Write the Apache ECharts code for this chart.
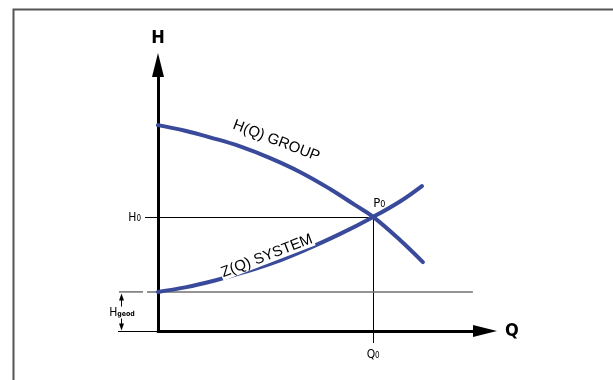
<!DOCTYPE html>
<html>
<head>
<meta charset="utf-8">
<script src="https://cdn.jsdelivr.net/npm/echarts@6/dist/echarts.min.js"></script>
<style>
html,body{margin:0;padding:0;background:#fff;}
#chart{width:613px;height:380px;}
</style>
</head>
<body>
<div id="chart"></div>
<script>
// ---- data (abstract units) ----
const pumpQ = [0, 8.3, 15.9, 25.1, 34.3, 43.4, 52.6, 60.2, 65.8, 74.0, 81.0];
const pumpH = [77.4, 75.3, 72.8, 69.4, 65.0, 59.8, 53.4, 47.4, 42.9, 34.2, 25.9];
const systemQ = [0, 8.3, 17.4, 26.6, 35.8, 45.0, 55.7, 65.8, 74.0, 80.7];
const systemH = [14.7, 16.4, 19.0, 22.2, 25.9, 30.5, 36.5, 42.9, 48.7, 54.5];
const operatingPoint = [65.8, 42.9];   // P0 = (Q0, H0)
const hGeod = 14.7;
const geodLineEndQ = 96.3;
const pumpLabelAt = [36.2, 71.5];
const systemLabelAt = [33.3, 28.2];
const axisNames = { x: 'Q', y: 'H' };
const curveLabels = { pump: 'H(Q) GROUP', system: 'Z(Q) SYSTEM' };

const BLUE = '#3a4a9b';
const FONT = "'Liberation Sans', Arial, sans-serif";
const NARROW = "'Liberation Sans Narrow', 'DejaVu Sans Condensed', 'Liberation Sans', Arial, sans-serif";

const zip = (a, b) => a.map((v, i) => [v, b[i]]);
const px = v => Math.round(v) + 0.5;

const chart = echarts.init(document.getElementById('chart'), null, { renderer: 'canvas' });

const option = {
  animation: false,
  backgroundColor: '#fff',
  grid: { left: 158, top: 65, right: 128, bottom: 49, containLabel: false },
  xAxis: {
    type: 'value', min: 0, max: 100,
    name: axisNames.x, nameLocation: 'end', nameGap: 20,
    nameTextStyle: { fontFamily: NARROW, fontWeight: 'bold', fontSize: 18, color: '#000', verticalAlign: 'middle' },
    axisLine: { show: true, onZero: false, symbol: ['none', 'triangle'], symbolSize: [12, 24],
      lineStyle: { color: '#000', width: 3 } },
    axisTick: { show: false }, axisLabel: { show: false }, splitLine: { show: false }
  },
  yAxis: {
    type: 'value', min: 0, max: 100,
    name: axisNames.y, nameLocation: 'end', nameGap: 18,
    nameTextStyle: { fontFamily: NARROW, fontWeight: 'bold', fontSize: 18, color: '#000', align: 'center' },
    axisLine: { show: true, onZero: false, symbol: ['none', 'triangle'], symbolSize: [12, 24],
      lineStyle: { color: '#000', width: 3 } },
    axisTick: { show: false }, axisLabel: { show: false }, splitLine: { show: false }
  },
  graphic: [
    { type: 'rect', left: 11, top: 7, shape: { x: 0, y: 0, width: 700, height: 500 },
      style: { fill: 'none', stroke: '#555', lineWidth: 2 }, z: 100, silent: true }
  ],
  series: [
    {
      type: 'custom', name: 'guides', z: 1, clip: false, silent: true,
      data: [[0, 0]],
      renderItem: function (params, api) {
        const o = api.coord([0, 0]);
        const p = api.coord(operatingPoint);
        const g = api.coord([0, hGeod]);
        const gEnd = api.coord([geodLineEndQ, hGeod]);
        const dx = px(o[0] - 37);
        const gy = px(g[1]), oy = px(o[1]), py = px(p[1]), pxx = px(p[0]);
        const blk = { stroke: '#000', lineWidth: 1 };
        const gry = { stroke: '#707070', lineWidth: 1.5 };
        return {
          type: 'group',
          children: [
            { type: 'line', shape: { x1: o[0] - 13, y1: py, x2: p[0], y2: py }, style: blk },
            { type: 'line', shape: { x1: pxx, y1: p[1], x2: pxx, y2: o[1] + 12 }, style: blk },
            { type: 'line', shape: { x1: o[0] - 39, y1: g[1], x2: o[0] - 15, y2: g[1] }, style: gry },
            { type: 'line', shape: { x1: o[0] - 11, y1: g[1], x2: gEnd[0], y2: g[1] }, style: gry },
            { type: 'line', shape: { x1: o[0] - 40, y1: oy, x2: o[0], y2: oy }, style: blk },
            { type: 'line', shape: { x1: dx, y1: gy + 5, x2: dx, y2: gy + 14 }, style: blk },
            { type: 'polygon', shape: { points: [[dx, gy + 1], [dx - 2.5, gy + 8], [dx + 2.5, gy + 8]] }, style: { fill: '#000' } },
            { type: 'line', shape: { x1: dx, y1: oy - 13, x2: dx, y2: oy - 5 }, style: blk },
            { type: 'polygon', shape: { points: [[dx, oy - 1], [dx - 2.5, oy - 8], [dx + 2.5, oy - 8]] }, style: { fill: '#000' } }
          ]
        };
      }
    },
    {
      type: 'line', name: 'pump', z: 2, data: zip(pumpQ, pumpH),
      smooth: 0.4, showSymbol: false, symbol: 'none',
      lineStyle: { color: BLUE, width: 4, cap: 'round' }
    },
    {
      type: 'line', name: 'system', z: 2, data: zip(systemQ, systemH),
      smooth: 0.4, showSymbol: false, symbol: 'none',
      lineStyle: { color: BLUE, width: 4, cap: 'round' }
    },
    {
      type: 'custom', name: 'labels', z: 3, clip: false, silent: true,
      data: [[0, 0]],
      renderItem: function (params, api) {
        const o = api.coord([0, 0]);
        const p = api.coord(operatingPoint);
        const g = api.coord([0, hGeod]);
        const pl = api.coord(pumpLabelAt);
        const sl = api.coord(systemLabelAt);
        const sub = (mainSize, subSize, subBold) => ({
          a: { fontFamily: NARROW, fontSize: mainSize, fill: '#000' },
          b: { fontFamily: NARROW, fontSize: subSize, fill: '#000', fontWeight: subBold ? 'bold' : 'normal', verticalAlign: 'bottom', padding: [0, 0, 1, 0] }
        });
        return {
          type: 'group',
          children: [
            { type: 'text', x: pl[0], y: pl[1], rotation: -21 * Math.PI / 180,
              style: { text: curveLabels.pump, fontFamily: FONT, fontSize: 15, fill: '#000', align: 'center', verticalAlign: 'middle' } },
            { type: 'text', x: sl[0], y: sl[1], rotation: 21 * Math.PI / 180,
              style: { text: curveLabels.system, fontFamily: FONT, fontSize: 15, fill: '#000', align: 'center', verticalAlign: 'middle',
                backgroundColor: '#fff', padding: [0, 1, 0, 1] } },
            { type: 'text', x: p[0], y: p[1] - 7,
              style: { text: '{a|P}{b|0}', rich: sub(13, 9, false), align: 'left', verticalAlign: 'bottom' } },
            { type: 'text', x: o[0] - 17, y: p[1] + 1,
              style: { text: '{a|H}{b|0}', rich: sub(12, 8, false), align: 'right', verticalAlign: 'middle' } },
            { type: 'text', x: p[0], y: o[1] + 24,
              style: { text: '{a|Q}{b|0}', rich: sub(12, 8, false), align: 'center', verticalAlign: 'middle' } },
            { type: 'text', x: o[0] - 36, y: (g[1] + o[1]) / 2 + 1,
              style: { text: '{a|H}{b|geod}', rich: sub(12, 7, true), align: 'center', verticalAlign: 'middle' } }
          ]
        };
      }
    }
  ]
};
chart.setOption(option);
</script>
</body>
</html>
